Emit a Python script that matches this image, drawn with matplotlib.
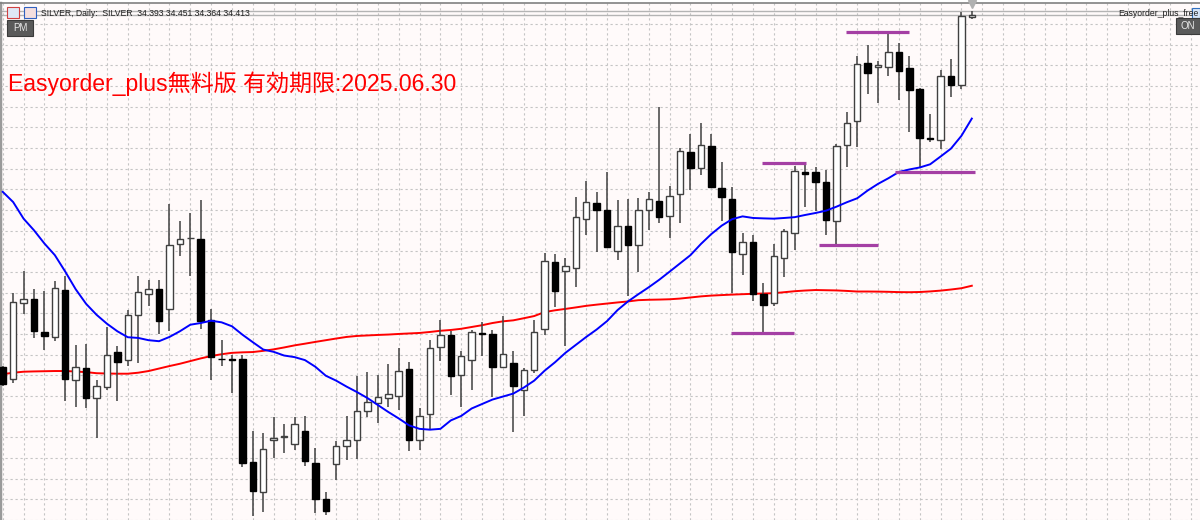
import numpy as np
import matplotlib
matplotlib.use('Agg')
import matplotlib.pyplot as plt
from matplotlib.patches import Rectangle

# SILVER daily bars, oldest first, last one is the running bar
opens = [30.867, 30.75, 31.507, 31.553, 31.217, 31.173, 31.643, 30.733, 30.853, 30.56,
         30.67, 31.02, 30.937, 31.387, 31.607, 31.65, 31.45, 32.11, 32.163, 32.16,
         31.337, 30.95, 30.947, 30.947, 29.907, 29.607, 30.13, 30.167, 30.097, 30.22,
         29.90, 29.535, 29.893, 30.077, 30.137, 30.427, 30.51, 30.56, 30.573, 30.85,
         30.137, 30.393, 31.067, 31.193, 30.783, 30.933, 31.207, 31.20, 30.867, 30.91,
         30.637, 30.837, 31.253, 31.92, 31.833, 31.867, 32.36, 32.517, 32.443, 32.033,
         32.283, 32.10, 32.443, 32.537, 32.387, 32.613, 33.027, 32.873, 33.093, 32.67,
         32.56, 32.003, 32.127, 31.60, 31.51, 31.967, 32.22, 32.833, 32.827, 32.733,
         32.333, 33.103, 33.343, 33.927, 33.887, 33.883, 34.033, 33.877, 33.66, 33.167,
         33.153, 33.793, 33.70, 34.393]
highs = [30.88, 31.61, 31.833, 31.653, 31.633, 31.733, 31.787, 31.087, 31.103, 30.737,
         31.27, 31.077, 31.44, 31.783, 31.743, 31.743, 32.503, 32.337, 32.42, 32.543,
         31.453, 31.143, 30.993, 30.987, 30.22, 30.207, 30.36, 30.29, 30.365, 30.375,
         30.05, 29.61, 30.127, 30.377, 30.777, 30.82, 30.787, 30.893, 31.06, 30.92,
         30.453, 31.143, 31.337, 31.227, 31.027, 31.237, 31.32, 31.243, 31.377, 31.027,
         30.86, 31.343, 32.017, 32.00, 31.96, 32.577, 32.743, 32.627, 32.833, 32.55,
         32.56, 32.57, 32.633, 33.487, 32.687, 33.067, 33.21, 33.327, 33.21, 32.927,
         32.677, 32.217, 32.193, 31.717, 32.11, 32.26, 32.887, 32.903, 32.877, 32.85,
         33.11, 33.437, 33.993, 34.103, 33.943, 34.233, 34.127, 33.993, 33.67, 33.417,
         33.86, 33.967, 34.443, 34.451]
lows = [30.68, 30.71, 31.40, 31.16, 31.04, 31.133, 30.527, 30.46, 30.453, 30.15,
        30.637, 30.527, 30.877, 30.903, 31.477, 31.203, 31.233, 31.987, 31.783, 31.253,
        30.733, 30.877, 30.603, 29.86, 29.37, 29.41, 29.953, 30.005, 30.033, 29.868,
        29.40, 29.38, 29.727, 29.933, 29.943, 30.36, 30.303, 30.467, 30.437, 30.027,
        30.033, 30.243, 30.927, 30.583, 30.467, 30.637, 30.977, 30.567, 30.86, 30.21,
        30.37, 30.803, 31.187, 31.47, 31.077, 31.677, 32.193, 32.027, 32.06, 31.943,
        31.583, 31.82, 32.243, 32.32, 32.167, 32.32, 32.653, 32.80, 32.67, 32.337,
        31.61, 31.793, 31.527, 31.193, 31.477, 31.777, 32.043, 32.477, 32.437, 32.20,
        32.093, 32.877, 33.077, 33.61, 33.52, 33.793, 33.553, 33.233, 32.877, 33.133,
        33.06, 33.587, 33.66, 34.364]
closes = [30.693, 31.517, 31.547, 31.233, 31.183, 31.667, 30.743, 30.867, 30.553, 30.677,
          30.987, 30.92, 31.387, 31.623, 31.653, 31.327, 32.097, 32.157, 32.17, 31.327,
          30.967, 30.947, 30.937, 29.90, 29.617, 30.04, 30.157, 30.173, 30.293, 29.923,
          29.538, 29.42, 30.077, 30.133, 30.42, 30.52, 30.567, 30.60, 30.827, 30.137,
          30.377, 31.057, 31.193, 30.773, 30.977, 31.217, 31.203, 30.867, 31.003, 30.673,
          30.833, 31.217, 31.937, 31.637, 31.887, 32.377, 32.527, 32.443, 32.07, 32.29,
          32.10, 32.45, 32.553, 32.377, 32.593, 33.037, 32.87, 33.10, 32.683, 32.577,
          32.027, 32.127, 31.60, 31.493, 31.983, 32.233, 32.837, 32.813, 32.733, 32.343,
          33.087, 33.327, 33.917, 33.827, 33.907, 34.037, 33.85, 33.653, 33.17, 33.157,
          33.797, 33.70, 34.40, 34.413]

# moving averages as drawn on the chart
ma_fast = [32.63, 32.527, 32.36, 32.243, 32.11, 31.993, 31.827, 31.65, 31.503, 31.393,
           31.303, 31.227, 31.167, 31.16, 31.137, 31.127, 31.17, 31.227, 31.293, 31.31,
           31.333, 31.317, 31.277, 31.193, 31.117, 31.043, 31.02, 30.983, 30.967, 30.937,
           30.87, 30.78, 30.73, 30.67, 30.615, 30.555, 30.485, 30.415, 30.35, 30.28,
           30.245, 30.237, 30.245, 30.33, 30.375, 30.45, 30.495, 30.54, 30.57, 30.60,
           30.66, 30.73, 30.83, 30.915, 31.01, 31.09, 31.17, 31.245, 31.33, 31.44,
           31.527, 31.60, 31.67, 31.745, 31.827, 31.91, 31.993, 32.105, 32.205, 32.29,
           32.355, 32.383, 32.367, 32.363, 32.36, 32.367, 32.375, 32.397, 32.417, 32.44,
           32.48, 32.525, 32.565, 32.643, 32.71, 32.767, 32.83, 32.855, 32.875, 32.907,
           32.985, 33.065, 33.193, 33.367]
ma_slow = [30.795, 30.81, 30.82, 30.823, 30.825, 30.827, 30.827, 30.822, 30.816, 30.805,
           30.802, 30.80, 30.80, 30.81, 30.827, 30.852, 30.877, 30.90, 30.927, 30.954,
           30.978, 30.996, 31.01, 31.015, 31.018, 31.03, 31.045, 31.064, 31.085, 31.102,
           31.12, 31.137, 31.154, 31.17, 31.18, 31.185, 31.19, 31.194, 31.20, 31.205,
           31.21, 31.22, 31.232, 31.24, 31.252, 31.27, 31.288, 31.31, 31.327, 31.337,
           31.358, 31.38, 31.42, 31.438, 31.452, 31.467, 31.483, 31.495, 31.506, 31.517,
           31.527, 31.54, 31.544, 31.546, 31.549, 31.556, 31.567, 31.578, 31.586, 31.591,
           31.596, 31.60, 31.604, 31.607, 31.61, 31.62, 31.63, 31.637, 31.642, 31.64,
           31.638, 31.633, 31.627, 31.627, 31.626, 31.624, 31.621, 31.62, 31.622, 31.628,
           31.636, 31.647, 31.66, 31.685]

# hand drawn support / resistance levels
level_prices = [34.24, 32.92, 32.09, 31.21, 32.83]
level_start = [80.9, 72.9, 78.3, 69.9, 85.6]
level_end = [87.0, 77.1, 84.0, 75.9, 93.3]

bid = 34.413
ask = 34.448

JP = ['Liberation Sans', 'Noto Sans CJK JP', 'DejaVu Sans']

W, H = 1200, 520
fig = plt.figure(figsize=(12, 5.2), dpi=100)
fig.patch.set_facecolor('#ffffff')
ax = fig.add_axes([0, 0, 1, 517 / H])
ax.set_facecolor('#fffafa')
ax.set_xlim(-0.263, 114.9)
ax.set_ylim(29.36, 34.53)

ax.set_xticks(np.arange(0, 116, 2))
ax.set_yticks(34.32 - 0.208 * np.arange(0, 25))
ax.grid(True, color='#c4c4c4', linestyle=(0, (2, 2.5)), linewidth=0.8)
ax.tick_params(left=False, bottom=False, labelleft=False, labelbottom=False)
for s in ['right', 'bottom']:
    ax.spines[s].set_visible(False)
ax.spines['top'].set_color('#808080')
ax.spines['top'].set_linewidth(1.2)
ax.spines['left'].set_color('#9a9a9a')
ax.spines['left'].set_linewidth(2.5)

# bid / ask lines
ax.axhline(bid, color='#b4b4b4', lw=1)
ax.axhline(ask, color='#b4b4b4', lw=1)

ax.plot(range(len(ma_slow)), ma_slow, color='#ff0000', lw=1.4, zorder=2)

bw = 0.62
for i in range(len(opens)):
    o, h, l, c = opens[i], highs[i], lows[i], closes[i]
    ax.vlines(i, l, h, color='#404040', lw=1.1, zorder=3)
    bottom = min(o, c)
    height = max(abs(c - o), 0.004)
    if c >= o:
        ax.add_patch(Rectangle((i - bw / 2, bottom), bw, height, facecolor='#ffffff',
                               edgecolor='#404040', lw=1, zorder=4))
    else:
        ax.add_patch(Rectangle((i - bw / 2, bottom), bw, height, facecolor='#000000',
                               edgecolor='#000000', lw=1, zorder=4))

ax.plot(range(len(ma_fast)), ma_fast, color='#0000ff', lw=1.4, zorder=5)

ax.hlines(level_prices, level_start, level_end, color='#a43fa4', lw=2.3, zorder=6)

# chart shift marker
ax.plot([len(opens) - 1], [34.515], marker='v', color='#b0b0b0', ms=6, clip_on=False, zorder=7)

ax.text(0.5, 33.72, 'Easyorder_plus無料版 有効期限:2025.06.30', color='#ff0000',
        fontsize=16.6, family=JP, va='center', ha='left', zorder=8)


def px(x, y):
    return x / W, 1 - y / H


# header
fig.text(*px(41, 13), 'SILVER, Daily:  SILVER  34.393 34.451 34.364 34.413', fontsize=6.2,
         family=JP, color='#202020', va='center', ha='left')
fig.text(*px(1118, 13), 'Easyorder_plus_free', fontsize=6.2, family=JP,
         color='#202020', va='center', ha='left')
for x0, y0, w, h, fc, ec in [(7, 7, 12, 11, '#dfe8f5', '#d04040'), (24, 7, 12, 11, '#f5dfdf', '#3060c0'),
                             (1192, 8, 8, 10, '#d8e6f8', '#3070c0')]:
    fig.patches.append(Rectangle(px(x0, y0 + h), w / W, h / H, transform=fig.transFigure,
                                 facecolor=fc, edgecolor=ec, lw=0.8))

# buttons
fig.patches.append(Rectangle(px(7, 36), 26 / W, 16 / H, transform=fig.transFigure,
                             facecolor='#5a5a5a', edgecolor='#3a3a3a', lw=0.8))
fig.text(*px(20, 28), 'PM', fontsize=7, family=JP, color='#e8e8e8', va='center', ha='center')
fig.patches.append(Rectangle(px(1176, 33.5), 24 / W, 15 / H, transform=fig.transFigure,
                             facecolor='#5a5a5a', edgecolor='#3a3a3a', lw=0.8))
fig.text(*px(1188, 26), 'ON', fontsize=7, family=JP, color='#e8e8e8', va='center', ha='center')

fig.savefig('out.png', dpi=100, facecolor=fig.get_facecolor())
